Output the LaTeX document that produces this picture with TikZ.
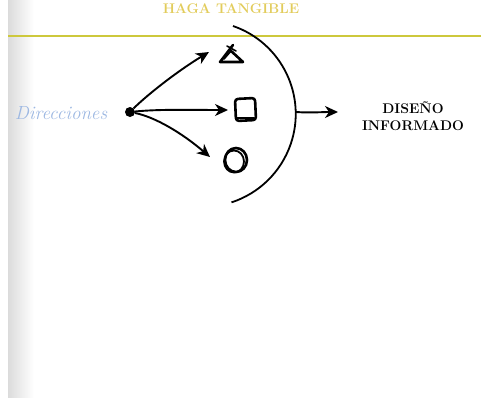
\documentclass[tikz,border=0pt]{standalone}
\usepackage{tikz}
\usetikzlibrary{positioning,arrows.meta,calc}
\definecolor{oro}{HTML}{E2CC5C}
\definecolor{oliva}{HTML}{CDC83C}
\definecolor{azulito}{HTML}{9DB8E2}
\tikzset{flecha/.style={-{Stealth[length=13pt,width=12pt,inset=4pt]},line width=1.9pt},
  trazo/.style={line width=2.6pt,line join=round,line cap=round},
  rotulo/.style={font=\bfseries\fontsize{14}{16.5}\selectfont,align=center,inner sep=0pt}}

\begin{document}
\begin{tikzpicture}[x=1pt,y=-1pt]
  \useasboundingbox (0,0) rectangle (481,397);
  % borde de la pagina
  \shade[left color=black!14,right color=white] (8,0) rectangle (34,397);
  \node[text=oro,font=\bfseries\fontsize{14}{16}\selectfont] (titulo) at (231,9) {HAGA TANGIBLE};
  \draw[oliva,line width=2.6pt] (8,36) -- (481,36);
  \node[text=azulito,font=\itshape\fontsize{19}{22}\selectfont,inner sep=0pt] (dir) at (61,113) {Direcciones};
  \node[circle,fill,inner sep=0pt,minimum size=10pt] (origen) at (130,112) {};
  % puntas de las flechas
  \coordinate (p1) at (209,52);
  \coordinate (p2) at (228,110);
  \coordinate (p3) at (210,157);
  \draw[flecha] (origen) .. controls (146,96) and (176,72) .. (p1);
  \draw[flecha] (origen) .. controls (160,109) and (195,110) .. (p2);
  \draw[flecha] (origen) .. controls (155,117) and (182,133) .. (p3);
  % figuras
  \coordinate (tri) at (232,55);
  \coordinate (cuad) at (245,110);
  \coordinate (circ) at (236,160);
  \draw[trazo] (233,45) -- (220,62) -- (243,62) -- (230,50);
  \draw[trazo,line width=1.6pt] (227,46) -- (236,51) (224,59) -- (231,51);
  \draw[trazo,rounded corners=3pt] (235,99) -- (255,98) -- (256,120) -- (236,121) -- cycle;
  \draw[trazo,line width=1.6pt] (237,118) -- (254,118);
  \draw[trazo] (circ) ellipse[x radius=11,y radius=12];
  \draw[trazo,line width=1.8pt] (circ) ++(-2,1.5) ellipse[x radius=10,y radius=11];
  % arco
  \draw[line width=1.8pt] (233,26) arc[start angle=-71,end angle=72,radius=93];
  \coordinate (salida) at (296,112);
  \coordinate (p4) at (338,112);
  \draw[flecha] (salida) .. controls (310,113) and (322,112) .. (p4);
  \node[rotulo] (diseno) at (413,116) {DISEÑO\\INFORMADO};
\end{tikzpicture}
\end{document}
